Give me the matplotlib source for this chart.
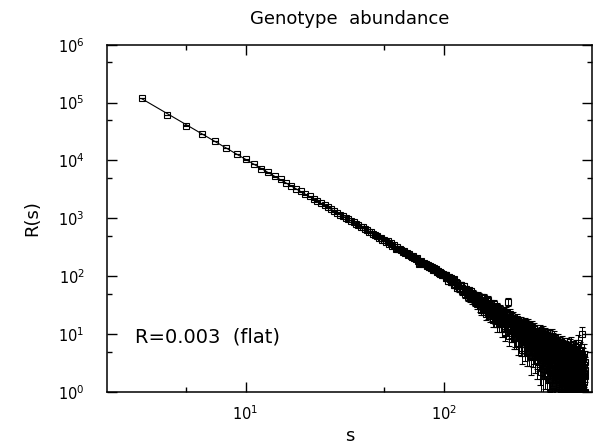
import matplotlib
matplotlib.use("Agg")
import matplotlib.pyplot as plt
from matplotlib.ticker import NullFormatter
import numpy as np

# genotype abundance distribution R(s), one value per abundance s = 3 .. 515
S = list(range(3, 516))

R_HEAD = [  # s = 3 .. 100
    120000, 61000, 40000, 29000, 21500, 16300, 13000, 10400,
    8700, 7250, 6250, 5300, 4700, 4080, 3650, 3220, 2930, 2600,
    2400, 2150, 2000, 1810, 1690, 1540, 1450, 1320, 1260, 1150,
    1100, 1010, 975, 895, 870, 800, 775, 715, 700, 645,
    635, 580, 575, 530, 525, 505, 460, 465, 430, 425,
    395, 400, 365, 370, 335, 345, 290, 320, 290, 300,
    285, 262, 272, 250, 255, 232, 240, 225, 212, 220,
    205, 196, 203, 186, 165, 178, 184, 165, 172, 160,
    163, 150, 156, 142, 150, 137, 143, 128, 136, 126,
    131, 118, 125, 112, 119, 110, 114, 103, 110, 104,
]
R_MID = [  # s = 101 .. 200
    107, 93, 107, 92, 82, 98, 90, 80, 95, 79,
    83, 71, 88, 72, 78, 63, 77, 68, 62, 71,
    61, 71, 55, 63, 58, 68, 49, 57, 59, 51,
    56, 44, 58, 48, 50, 43, 56, 46, 40, 50,
    41, 47, 36.5, 47, 40, 42, 32.5, 45.7, 36.4, 38.5,
    44, 30, 38, 26.4, 43, 32, 37.4, 26.5, 42, 31,
    27, 35.5, 22, 36.6, 29, 38.5, 22.7, 30.4, 24.9, 32,
    20.9, 27.6, 33, 21.8, 28.2, 17.4, 29.2, 22.9, 32.6, 19.4,
    25.6, 17.2, 27.6, 20.6, 28.9, 14.7, 22.2, 24.9, 17.4, 26,
    18.2, 27, 14.7, 21.1, 18.7, 23.5, 12.4, 21.4, 18.5, 14.7,
]
R_TAIL = [  # s = 201 .. 515
    23, 12.7, 18.9, 11, 24.3, 15.7, 19.8, 12.8, 21.8, 36.5,
    13.9, 19.4, 9.3, 17.5, 14.9, 22, 10.5, 15.5, 12, 19.1,
    10.6, 16.4, 12.7, 19.3, 8.5, 14.7, 12.9, 16.7, 9, 15.8,
    12.9, 8.4, 18.3, 10.8, 15.1, 7, 13.6, 11.3, 16, 9,
    13.9, 9.4, 12.1, 6.8, 15.6, 10.1, 5.3, 7.9, 11.9, 13.4,
    14.3, 6.8, 11.9, 9.1, 15.4, 5.8, 12.5, 9.5, 7.2, 14.1,
    8.9, 12.5, 5, 10.3, 14.7, 7.1, 9.4, 12.6, 5.0, 10.7,
    6.2, 12.9, 8.2, 10.6, 4, 9.6, 7, 13.5, 6.3, 8.6,
    10.9, 4.9, 8, 12.2, 5.4, 9.2, 6.8, 10.8, 4.2, 8.1,
    6.1, 9.5, 4.7, 10.9, 7.1, 3.6, 8.6, 5.2, 9.6, 6.3,
    9.8, 4.4, 7.9, 11.2, 3.1, 6.6, 8.9, 2.2, 7.4, 10.1,
    5.2, 8.7, 3.6, 6.9, 10.4, 4.8, 2.5, 7.7, 9.3, 5.5,
    3.9, 7.6, 5.8, 9.6, 2.8, 6.2, 8.4, 4.3, 1.9, 7.1,
    9.1, 4.6, 6.5, 3.2, 8.1, 5.4, 1.7, 7.3, 4.1, 6.8,
    2.6, 8.8, 5.1, 3.7, 7.0, 1.0, 6.1, 4.4, 9.2, 3.0,
    5.7, 2.3, 7.8, 4.2, 1.3, 6.4, 3.5, 8.3, 4.9, 2.1,
    6.9, 3.3, 1.0, 5.6, 4.0, 7.4, 2.4, 5.0, 1.6, 6.2,
    3.6, 5.9, 2.0, 4.7, 7.2, 1.0, 3.9, 5.3, 2.7, 6.5,
    1.4, 4.6, 3.1, 6.3, 2.2, 4.0, 1.0, 5.8, 3.4, 2.6,
    5.1, 1.8, 3.8, 6.7, 2.5, 1.0, 4.4, 3.0, 5.5, 1.5,
    3.2, 4.9, 1.0, 2.7, 6.0, 3.6, 1.9, 4.3, 2.4, 1.0,
    5.3, 2.9, 1.6, 3.9, 2.1, 6.2, 1.0, 3.4, 4.6, 2.3,
    1.3, 3.7, 5.0, 2.0, 1.0, 4.1, 2.8, 1.5, 3.3, 5.7,
    2.5, 1.0, 3.9, 1.8, 4.7, 2.2, 1.2, 3.1, 6.4, 1.0,
    2.7, 4.3, 1.6, 3.5, 1.0, 2.4, 5.2, 1.9, 3.0, 1.3,
    4.0, 2.1, 1.0, 3.4, 2.6, 1.4, 4.8, 1.0, 2.9, 3.7,
    1.7, 2.3, 5.5, 1.0, 3.1, 2.0, 1.2, 4.2, 2.5, 1.0,
    3.6, 1.5, 2.8, 7.0, 1.0, 2.2, 3.9, 1.3, 2.6, 1.0,
    4.5, 1.8, 1.0, 3.2, 2.0, 1.4, 5.1, 1.0, 2.4, 3.5,
    1.0, 2.7, 1.6, 4.0, 1.0, 2.2, 9.9, 1.3, 3.0, 1.9,
    1.0, 2.5, 3.8, 1.2, 1.0, 2.9, 1.7, 4.6, 1.0, 2.1,
    1.5, 3.3, 1.0, 2.4, 1.9,
]
LABEL = "R=0.003  (flat)"

s = np.array(S, dtype=float)
r = np.array(R_HEAD + R_MID + R_TAIL, dtype=float)
err = np.sqrt(r)

# power-law fit over the clean part of the distribution
head = s <= 100
slope, icpt = np.polyfit(np.log10(s[head]), np.log10(r[head]), 1)
fit = 10 ** (icpt + slope * np.log10(s))

plt.rcParams["font.family"] = "DejaVu Sans"
plt.rcParams["mathtext.fontset"] = "dejavusans"

fig = plt.figure(figsize=(6.03, 4.46), dpi=100)
ax = fig.add_axes([0.1774, 0.1211, 0.8044, 0.7787])

ax.errorbar(s, r, yerr=err, fmt="s", ms=4.8, mfc="none", mec="black",
            mew=0.8, ecolor="black", elinewidth=0.7, capsize=2.2,
            capthick=0.7, zorder=3)
ax.plot(s, fit, color="black", lw=0.8, zorder=2)

ax.set_xscale("log")
ax.set_yscale("log")

# only in-range ticks: decades, plus a minor tick at 5x each decade
ax.set_xticks([10, 100])
ax.set_xticks([5, 50], minor=True)
ax.set_yticks([1, 1e1, 1e2, 1e3, 1e4, 1e5, 1e6])
ax.set_yticks([5, 5e1, 5e2, 5e3, 5e4, 5e5], minor=True)
ax.xaxis.set_minor_formatter(NullFormatter())
ax.yaxis.set_minor_formatter(NullFormatter())
ax.set_xlim(2, 558)
ax.set_ylim(1, 1e6)

ax.tick_params(which="both", direction="in", top=True, right=True, width=1.0)
ax.tick_params(which="major", length=7, labelsize=10.5)
ax.tick_params(axis="x", which="major", pad=9)
ax.tick_params(axis="y", which="major", pad=16)
ax.tick_params(which="minor", length=3.6)
for sp in ax.spines.values():
    sp.set_linewidth(1.1)

ax.set_title("Genotype  abundance", fontsize=13, pad=15)
ax.set_xlabel("s", fontsize=13, labelpad=3)
ax.set_ylabel("R(s)", fontsize=13, labelpad=12)
ax.text(0.058, 0.158, LABEL, transform=ax.transAxes, fontsize=14,
        ha="left", va="center")

fig.savefig("out.png", dpi=100)
